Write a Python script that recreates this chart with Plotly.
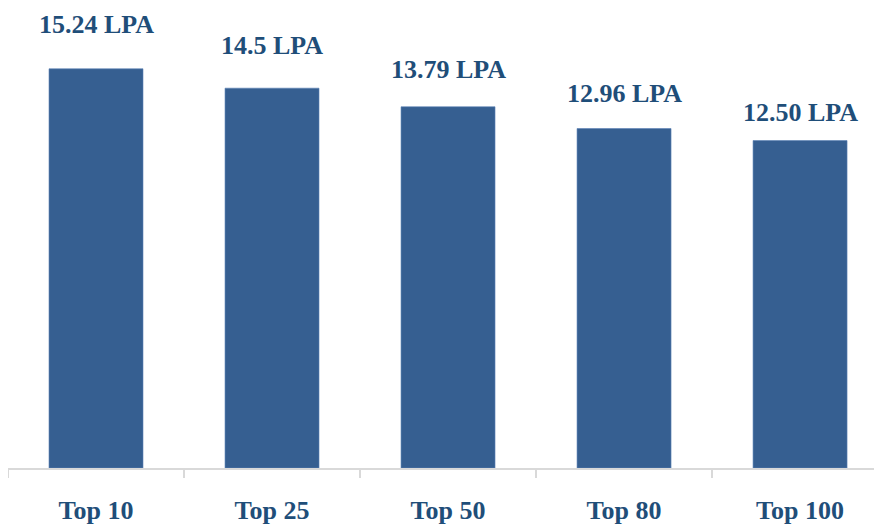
import plotly.graph_objects as go

categories = ["Top 10", "Top 25", "Top 50", "Top 80", "Top 100"]
values = [15.24, 14.5, 13.79, 12.96, 12.50]
value_labels = ["15.24 LPA", "14.5 LPA", "13.79 LPA", "12.96 LPA", "12.50 LPA"]
label_shifts = [28, 26, 21, 19, 12]

BAR = "#365f91"
TXT = "#1f4e79"
FONT = "'Liberation Serif', 'Times New Roman', Times, serif"

fig = go.Figure(go.Bar(
    x=categories, y=values,
    marker=dict(color=BAR, line=dict(color="#5b82b5", width=0.6)),
    width=0.534, hoverinfo="skip",
))

for c, v, t, s in zip(categories, values, value_labels, label_shifts):
    fig.add_annotation(x=c, y=v, text=f"<b>{t}</b>", showarrow=False,
                       yanchor="bottom", xanchor="center", yshift=s,
                       font=dict(family=FONT, size=26, color=TXT))

fig.update_layout(
    width=882, height=528,
    margin=dict(l=0, r=0, t=0, b=68, autoexpand=False),
    paper_bgcolor="white", plot_bgcolor="white",
    showlegend=False,
    xaxis=dict(
        type="category",
        range=[-0.5, 4.511],
        tickmode="array", tickvals=categories,
        ticktext=[f"<b>{c}</b>" for c in categories],
        tickfont=dict(family=FONT, size=26, color=TXT),
        showline=True, linecolor="#d9d9d9", linewidth=2,
        ticks="outside", ticklen=8, tickcolor="#d9d9d9", tickwidth=2,
        tickson="boundaries", ticklabelstandoff=18,
        showgrid=False, zeroline=False, fixedrange=True,
    ),
    yaxis=dict(range=[0, 17.56], visible=False, showgrid=False, zeroline=False),
)
fig.write_html("out.html")
